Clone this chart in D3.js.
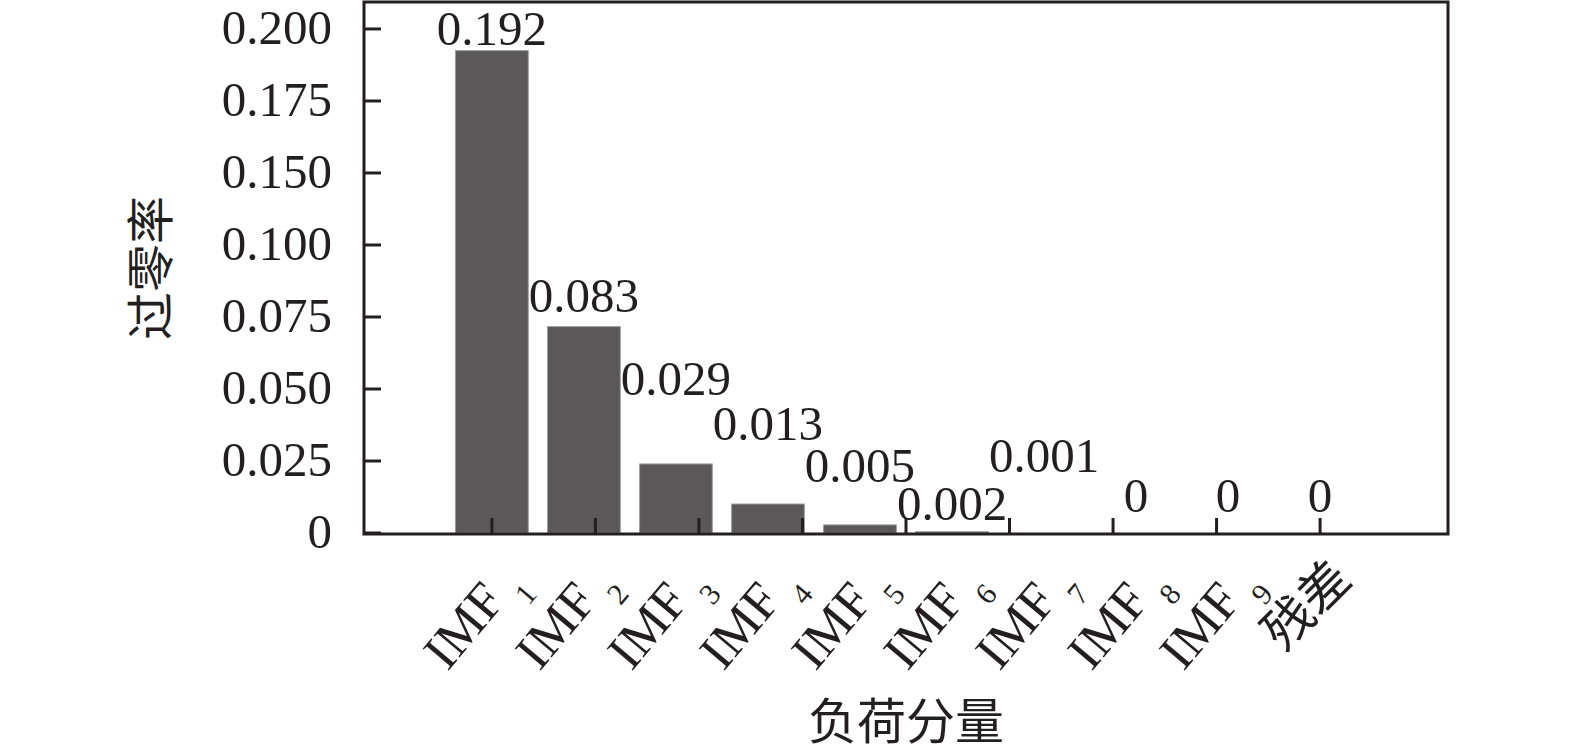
<!DOCTYPE html>
<html>
<head>
<meta charset="utf-8">
<script src="https://cdn.jsdelivr.net/npm/d3@7/dist/d3.min.js"></script>
<style>
  html, body { margin: 0; padding: 0; background: #fff; }
  svg { display: block; }
</style>
</head>
<body>
<svg id="chart" width="1575" height="754"></svg>
<script>
// ---- data ----
const categoryNames = ["IMF", "IMF", "IMF", "IMF", "IMF", "IMF", "IMF", "IMF", "IMF", "残差"];
const categorySubs  = ["1", "2", "3", "4", "5", "6", "7", "8", "9", ""];
const barValues     = [0.1914, 0.0819, 0.0274, 0.0115, 0.0032, 0.0005, 0, 0, 0, 0];
const valueLabels   = ["0.192", "0.083", "0.029", "0.013", "0.005", "0.002", "0.001", "0", "0", "0"];
const labelLevels   = [0.1938, 0.0878, 0.0548, 0.0369, 0.0204, 0.0052, 0.0243, 0.0085, 0.0085, 0.0085];
const yTickLabels   = ["0", "0.025", "0.050", "0.075", "0.100", "0.150", "0.175", "0.200"];
const yTitle = "过零率";
const xTitle = "负荷分量";

(function () {
// ---- layout ----
const svg = d3.select("#chart");
const pL = 364, pR = 1448, pT = 2, pB = 534;
const serif = "'Liberation Serif', 'Times New Roman', serif";
const cjk = "'Noto Sans CJK SC', sans-serif";
const ink = "#231f20";

const x = d3.scaleLinear().domain([-0.39, 11.39]).range([pL, pR]);
const y = d3.scaleLinear().domain([0, 0.2107]).range([533, pT]);
const idx = categoryNames.map((d, i) => i + 1);
const barW = x(0.79) - x(0);

const g = svg.append("g");

// bars
g.selectAll("rect.bar").data(barValues).join("rect")
  .attr("class", "bar")
  .attr("x", (d, i) => x(idx[i]) - barW / 2)
  .attr("width", barW)
  .attr("y", d => y(d))
  .attr("height", d => y(0) - y(d))
  .attr("fill", "#5a5858")
  .attr("stroke", "#9a9a9a")
  .attr("stroke-width", 1);

// y ticks (inner)
const yTickVals = yTickLabels.map((d, k) => k * 0.2 / 7);
g.selectAll("line.yt").data(yTickVals).join("line")
  .attr("x1", pL).attr("x2", pL + 17)
  .attr("y1", d => y(d)).attr("y2", d => y(d))
  .attr("stroke", ink).attr("stroke-width", 3);
g.selectAll("text.yl").data(yTickVals).join("text")
  .attr("x", 332).attr("y", d => y(d)).attr("dy", "0.306em")
  .attr("text-anchor", "end")
  .attr("font-family", serif).attr("font-size", 49).attr("fill", ink)
  .text((d, k) => yTickLabels[k]);

// x ticks (inner, 9 evenly spaced between first and last category)
const xTickVals = d3.range(9).map(k => 1 + k * 9 / 8);
g.selectAll("line.xt").data(xTickVals).join("line")
  .attr("x1", d => x(d)).attr("x2", d => x(d))
  .attr("y1", pB).attr("y2", pB - 16)
  .attr("stroke", ink).attr("stroke-width", 3);

// frame
g.append("rect")
  .attr("x", pL).attr("y", pT)
  .attr("width", pR - pL).attr("height", pB - pT)
  .attr("fill", "none").attr("stroke", ink).attr("stroke-width", 3);

// value labels
g.selectAll("text.vl").data(valueLabels).join("text")
  .attr("x", (d, i) => x(idx[i]))
  .attr("y", (d, i) => y(labelLevels[i]))
  .attr("text-anchor", "middle")
  .attr("font-family", serif).attr("font-size", 49).attr("fill", ink)
  .text(d => d);

// category labels (rotated)
categoryNames.forEach((name, i) => {
  const t = g.append("text")
    .attr("text-anchor", "end")
    .attr("fill", ink);
  if (categorySubs[i]) {
    t.attr("transform", `translate(${x(idx[i]) + 31},${582}) rotate(-50)`);
    t.append("tspan").attr("font-family", serif).attr("font-size", 52).text(name);
    t.append("tspan").attr("font-family", serif).attr("font-size", 30)
      .attr("dx", 10).attr("dy", 20).text(categorySubs[i]);
  } else {
    t.attr("transform", `translate(${x(idx[i]) + 34},${582}) rotate(-45)`);
    t.append("tspan").attr("font-family", cjk).attr("font-size", 50).text(name);
  }
});

// axis titles
svg.append("text")
  .attr("transform", `translate(168,${(pT + pB) / 2}) rotate(-90)`)
  .attr("text-anchor", "middle")
  .attr("font-family", cjk).attr("font-size", 48).attr("fill", ink)
  .text(yTitle);
svg.append("text")
  .attr("x", (pL + pR) / 2).attr("y", 739)
  .attr("text-anchor", "middle")
  .attr("font-family", cjk).attr("font-size", 49).attr("fill", ink)
  .text(xTitle);
})();
</script>
</body>
</html>
